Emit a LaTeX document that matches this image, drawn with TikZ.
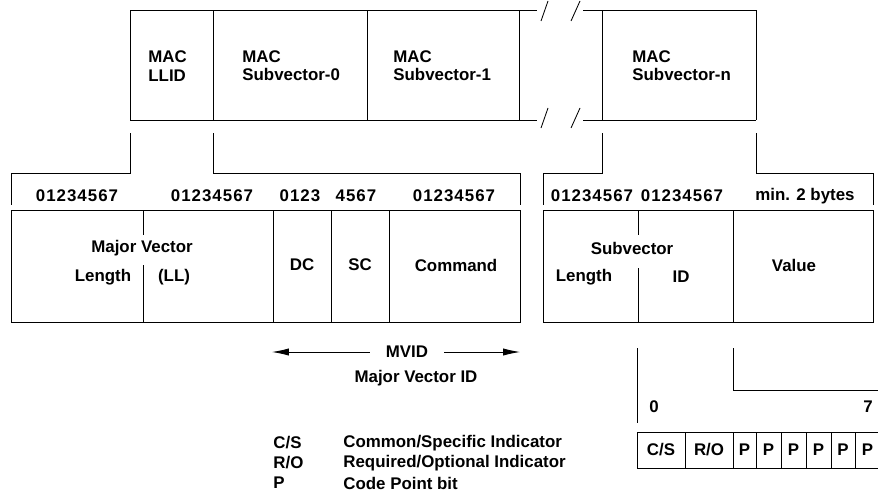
\documentclass[tikz,border=0pt]{standalone}
\usepackage{fontspec}
\setmainfont{Liberation Sans}
\usetikzlibrary{positioning, arrows.meta}

\begin{document}
\begin{tikzpicture}[
  x=0.025cm, y=-0.025cm,
  line width=0.6pt,
  font=\fontsize{12}{13}\selectfont\bfseries,
  mactext/.style={anchor=west, align=left, inner sep=0pt},
  fieldtext/.style={inner sep=0pt},
  bitlabel/.style={inner sep=0pt, font=\fontsize{12}{13}\selectfont\bfseries\addfontfeature{LetterSpace=6}},
  legendkey/.style={anchor=west, inner sep=0pt},
  mvidarrow/.style={-{Latex[length=4.2mm, width=1.8mm]}}
]

\useasboundingbox (0,0) rectangle (878,494);
\clip (0,0) rectangle (878,494);

% top row: MAC frame
\draw (130,10) -- (537,10) (583,10) -- (756,10);
\draw (130,120) -- (537,120) (583,120) -- (756,120);
\foreach \x in {130,213,367,519,602,756}
  \draw (\x,10) -- (\x,120);
\draw (541,21) -- (548,1) (571,21) -- (580,1);
\draw (541,128) -- (548,108) (571,128) -- (580,108);

\node[mactext] (llid) at (148,66) {MAC\\LLID};
\node[mactext] (sv0) at (242,66) {MAC\\Subvector-0};
\node[mactext] (sv1) at (393,66) {MAC\\Subvector-1};
\node[mactext] (svn) at (632,66) {MAC\\Subvector-n};

% brackets down to the detail boxes
\coordinate (llidL) at (130,133);
\coordinate (llidR) at (213,133);
\coordinate (svnL) at (602,133);
\coordinate (svnR) at (756,133);
\draw (llidL) -- (130,173) -- (11,173) -- (11,205);
\draw (llidR) -- (213,173) -- (520,173) -- (520,205);
\draw (svnL) -- (602,173) -- (543,173) -- (543,205);
\draw (svnR) -- (756,173) -- (873,173) -- (873,205);

% major vector header
\draw (11,210) rectangle (520,322);
\draw (143,210) -- (143,235) (143,265) -- (143,322);
\foreach \x in {273,331,389}
  \draw (\x,210) -- (\x,322);

\node[bitlabel] (b1) at (77,196) {01234567};
\node[bitlabel] (b2) at (212,196) {01234567};
\node[bitlabel] (b3) at (300,196) {0123};
\node[bitlabel] (b4) at (356,196) {4567};
\node[bitlabel] (b5) at (454,196) {01234567};

\node[fieldtext] (mv) at (142,248) {Major Vector};
\node[fieldtext] (mvlen) at (103,277) {Length};
\node[fieldtext] (ll) at (174,277) {(LL)};
\node[fieldtext] (dc) at (302,265) {DC};
\node[fieldtext] (sc) at (360,265) {SC};
\node[fieldtext] (cmd) at (456,265) {Command};

% subvector
\draw (543,210) rectangle (873,322);
\draw (638,210) -- (638,235) (638,268) -- (638,322);
\draw (733,210) -- (733,322);

\node[bitlabel] (b6) at (592,196) {01234567};
\node[bitlabel] (b7) at (682,196) {01234567};
\node[fieldtext] (b8) at (805,196) {min. 2 bytes};

\node[fieldtext] (sv) at (632,248) {Subvector};
\node[fieldtext] (svlen) at (584,277) {Length};
\node[fieldtext] (svid) at (681,277) {ID};
\node[fieldtext] (val) at (794,265) {Value};

% MVID span
\node[inner xsep=0.39cm] (mvid) at (407,352) {MVID};
\coordinate (mvidL) at (272,352);
\coordinate (mvidR) at (520,352);
\draw[mvidarrow] (mvid) -- (mvidL);
\draw[mvidarrow] (mvid) -- (mvidR);
\node[fieldtext] (mvidtxt) at (416,378) {Major Vector ID};

% ID byte bits
\coordinate (idL) at (637,348);
\coordinate (idR) at (733,348);
\draw (idL) -- (637,423);
\draw (idR) -- (733,390) -- (890,390);
\node[bitlabel] (bit0) at (654,407) {0};
\node[bitlabel] (bit7) at (868,407) {7};

\draw (637,432) -- (890,432) (637,468) -- (890,468);
\foreach \x in {637,685,733,756,781,806,831,855,880}
  \draw (\x,432) -- (\x,468);
\node[fieldtext] (cs) at (661,450) {C/S};
\node[fieldtext] (ro) at (709,450) {R/O};
\foreach \a/\b [count=\i] in {733/756,756/781,781/806,806/831,831/855,855/880}
  \node[fieldtext] (p\i) at ({(\a+\b)/2},450) {P};

% legend
\node[legendkey] (kcs) at (273,443) {C/S};
\node[legendkey] (kro) at (273,463) {R/O};
\node[legendkey] (kp) at (273,483) {P};
\node[legendkey] (dcs) at (343,443) {Common/Specific Indicator};
\node[legendkey] (dro) at (343,463) {Required/Optional Indicator};
\node[legendkey] (dp) at (343,483) {Code Point bit};

\end{tikzpicture}
\end{document}
